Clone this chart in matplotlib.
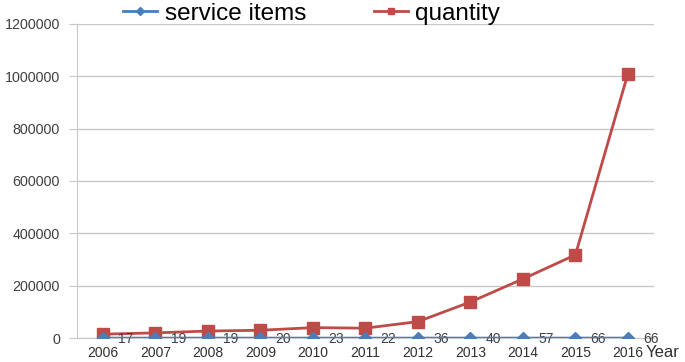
import matplotlib
matplotlib.use('Agg')
import matplotlib.pyplot as plt
from matplotlib.lines import Line2D
import numpy as np

plt.rcParams['font.family'] = ['Liberation Sans', 'DejaVu Sans']

years = ['2006', '2007', '2008', '2009', '2010', '2011',
         '2012', '2013', '2014', '2015', '2016']
service_items = [17, 19, 19, 20, 23, 22, 36, 40, 57, 66, 66]
quantity = [15000, 20000, 27000, 30000, 40000, 38000,
            63000, 138000, 226000, 318000, 1010000]
yticks = [0, 200000, 400000, 600000, 800000, 1000000, 1200000]

blue = '#4a7ebb'
red = '#be4b48'
grid_c = '#c8c8c8'

fig = plt.figure(figsize=(6.85, 3.62), dpi=100)
ax = fig.add_axes([0.112, 0.066, 0.843, 0.868])

x = np.arange(len(years))
ax.plot(x, service_items, '-', color=blue, lw=2, marker='D', ms=6, zorder=4)
ax.plot(x, quantity, '-', color=red, lw=2, marker='s', ms=8, zorder=3)

# value labels for service items, right of each point
for xi, v in zip(x, service_items):
    ax.annotate(str(v), (xi, v), xytext=(11, -1), textcoords='offset points',
                ha='left', va='center', fontsize=10, color='#404040')

ax.set_xlim(-0.5, len(years) - 0.5)
ax.set_ylim(0, 1200000)
ax.set_yticks(yticks)
ax.set_yticklabels([str(t) for t in yticks], fontsize=10.3, color='#404040')
ax.set_xticks(x)
ax.set_xticklabels(years, fontsize=10, color='#303030')
ax.grid(axis='y', color=grid_c, lw=1)
ax.set_axisbelow(True)
for s in ['top', 'right']:
    ax.spines[s].set_visible(False)
for s in ['left', 'bottom']:
    ax.spines[s].set_color(grid_c)
ax.tick_params(axis='y', length=6, color=grid_c, pad=6)
ax.tick_params(axis='x', length=0, pad=6)

fig.text(0.942, 0.025, 'Year', fontsize=12, color='#303030', ha='left', va='center')

# legend with smaller markers than the plotted lines
handles = [Line2D([], [], color=blue, lw=2, marker='D', ms=4),
           Line2D([], [], color=red, lw=2, marker='s', ms=5)]
fig.legend(handles, ['service items', 'quantity'], loc='center left',
           bbox_to_anchor=(0.148, 0.962), ncol=2, frameon=False, fontsize=17.5,
           handlelength=1.4, columnspacing=2.8, handletextpad=0.3)

fig.savefig('out.png', dpi=100)
